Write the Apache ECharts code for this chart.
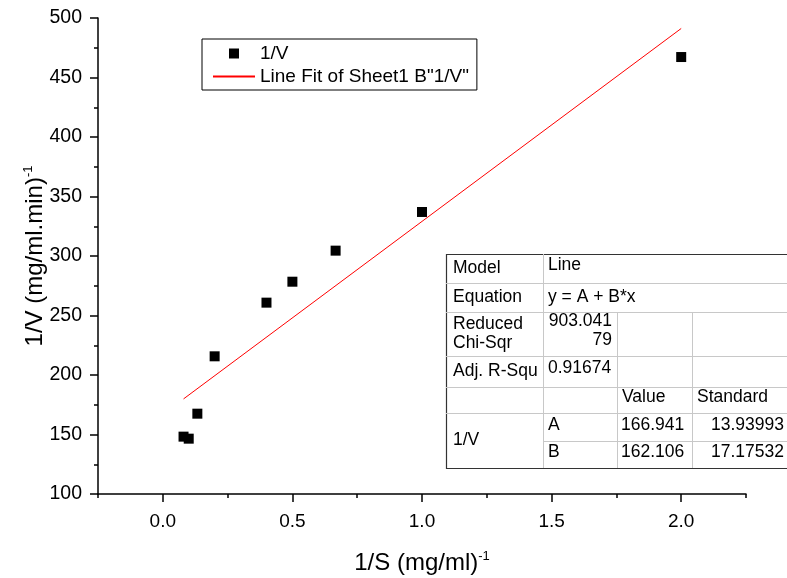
<!DOCTYPE html>
<html>
<head>
<meta charset="utf-8">
<script src="https://cdn.jsdelivr.net/npm/echarts@6/dist/echarts.min.js"></script>
<style>
  html, body { margin: 0; padding: 0; background: #fff; }
  #chart { width: 787px; height: 578px; }
</style>
</head>
<body>
<div id="chart"></div>
<script>
// data
const xVals = [0.08, 0.1, 0.1333, 0.2, 0.4, 0.5, 0.6667, 1.0, 2.0];
const yVals = [148.2, 146.5, 167.5, 215.7, 260.8, 278.4, 304.5, 337.0, 467.2];
// fitted line end points
const fitX = [0.08, 2.0];
const fitY = [179.9, 491.2];

const xTicks = [0, 0.5, 1.0, 1.5, 2.0];
const xMinorTicks = [-0.25, 0.25, 0.75, 1.25, 1.75, 2.25];

// fit result table
const tableLeft = ['Model', 'Equation', 'Reduced\nChi-Sqr', 'Adj. R-Squ', '', '1/V'];
const tableInfo = ['Line', 'y = A + B*x', '903.041\n79', '0.91674'];
const tableHead = ['', 'Value', 'Standard'];
const paramNames = ['A', 'B'];
const paramValues = ['166.941', '162.106'];
const paramErrors = ['13.93993', '17.17532'];

const FONT = '"Liberation Sans", Arial, sans-serif';

const chart = echarts.init(document.getElementById('chart'), null, { renderer: 'canvas' });

// table layout
const colX = [446, 543, 617, 692, 792];
const rowY = [254, 283, 312, 356, 387, 413, 441, 468];
const tFont = 17.5;
const gridColor = '#c8c8c8';

function txt(x, y, s, align) {
  return {
    type: 'text', x: x, y: y, z: 20,
    style: { text: s, font: tFont + 'px ' + FONT, fill: '#000', align: align || 'left', verticalAlign: 'middle', lineHeight: 19 }
  };
}
function ln(x1, y1, x2, y2, c) {
  return { type: 'line', z: 15, shape: { x1: x1, y1: y1, x2: x2, y2: y2 }, style: { stroke: c || gridColor, lineWidth: 1 } };
}

let table = [];
table.push({
  type: 'rect', z: 10,
  shape: { x: colX[0] + 0.5, y: rowY[0] + 0.5, width: colX[4] - colX[0], height: rowY[7] - rowY[0] },
  style: { fill: '#fff', stroke: '#333', lineWidth: 1.2 }
});
// horizontal lines
for (let i = 1; i <= 5; i++) table.push(ln(colX[0], rowY[i] + 0.5, colX[4], rowY[i] + 0.5));
table.push(ln(colX[1], rowY[6] + 0.5, colX[4], rowY[6] + 0.5));
// vertical lines
table.push(ln(colX[1] + 0.5, rowY[0], colX[1] + 0.5, rowY[7]));
table.push(ln(colX[2] + 0.5, rowY[2], colX[2] + 0.5, rowY[7]));
table.push(ln(colX[3] + 0.5, rowY[2], colX[3] + 0.5, rowY[7]));

// left column
for (let i = 0; i < 5; i++) {
  if (tableLeft[i]) table.push(txt(colX[0] + 7, (rowY[i] + rowY[i + 1]) / 2, tableLeft[i]));
}
table.push(txt(colX[0] + 7, (rowY[5] + rowY[7]) / 2, tableLeft[5]));
// info column
table.push(txt(colX[1] + 5, (rowY[0] + rowY[1]) / 2 - 3, tableInfo[0]));
table.push(txt(colX[1] + 5, (rowY[1] + rowY[2]) / 2, tableInfo[1]));
table.push(txt(colX[2] - 5, (rowY[2] + rowY[3]) / 2 - 3, tableInfo[2], 'right'));
table.push(txt(colX[1] + 5, (rowY[3] + rowY[4]) / 2 - 3, tableInfo[3]));
// header
table.push(txt(colX[2] + 5, (rowY[4] + rowY[5]) / 2 - 3, tableHead[1]));
table.push(txt(colX[3] + 5, (rowY[4] + rowY[5]) / 2 - 3, tableHead[2]));
// parameters
for (let i = 0; i < 2; i++) {
  const cy = (rowY[5 + i] + rowY[6 + i]) / 2 - 2;
  table.push(txt(colX[1] + 5, cy, paramNames[i]));
  table.push(txt(colX[2] + 4, cy, paramValues[i]));
  table.push(txt(784, cy, paramErrors[i], 'right'));
}

const axisColor = '#000';
const titleRich = {
  a: { fontSize: 24, fontFamily: FONT, color: '#000', lineHeight: 27 },
  s: { fontSize: 13, fontFamily: FONT, color: '#000', verticalAlign: 'top', lineHeight: 14 }
};

const option = {
  animation: false,
  backgroundColor: '#fff',
  textStyle: { fontFamily: FONT },
  grid: { left: 98, right: 41, top: 18, bottom: 84, containLabel: false, outerBoundsMode: 'none' },
  legend: {
    left: 202,
    top: 39,
    orient: 'vertical',
    borderColor: '#000',
    borderWidth: 1,
    padding: [5, 8, 4, 10],
    itemGap: 4,
    itemWidth: 42,
    itemHeight: 10,
    textStyle: { fontSize: 19, fontFamily: FONT, color: '#000' },
    data: [
      { name: '1/V', icon: 'path://M0,0H10V10H0Z' },
      { name: 'Line Fit of Sheet1 B"1/V"', itemStyle: { opacity: 0 } }
    ]
  },
  xAxis: [
    {
      type: 'value',
      min: -0.25,
      max: 2.25,
      name: '{a|1/S (mg/ml)}{s|-1}',
      nameLocation: 'middle',
      nameGap: 56,
      nameMoveOverlap: false,
      nameTextStyle: { rich: titleRich },
      splitLine: { show: false },
      axisLine: { show: true, onZero: false, lineStyle: { color: axisColor, width: 1.5 } },
      axisTick: { show: true, length: 8, customValues: xTicks, lineStyle: { color: axisColor, width: 1.5 } },
      axisLabel: {
        customValues: xTicks,
        margin: 18,
        fontSize: 19,
        fontFamily: FONT,
        color: '#000',
        formatter: v => v.toFixed(1)
      }
    },
    {
      type: 'value',
      min: -0.25,
      max: 2.25,
      position: 'bottom',
      splitLine: { show: false },
      axisLine: { show: false },
      axisTick: { show: true, length: 4, customValues: xMinorTicks, lineStyle: { color: axisColor, width: 1.5 } },
      axisLabel: { show: false }
    }
  ],
  yAxis: {
    type: 'value',
    min: 100,
    max: 500,
    interval: 50,
    name: '{a|1/V (mg/ml.min)}{s|-1}',
    nameLocation: 'middle',
    nameGap: 49,
    nameMoveOverlap: false,
    nameTextStyle: { rich: titleRich },
    splitLine: { show: false },
    axisLine: { show: true, onZero: false, lineStyle: { color: axisColor, width: 1.5 } },
    axisTick: { show: true, length: 8, lineStyle: { color: axisColor, width: 1.5 } },
    minorTick: { show: true, splitNumber: 2, length: 4, lineStyle: { color: axisColor, width: 1.5 } },
    axisLabel: { margin: 16, fontSize: 19.5, fontFamily: FONT, color: '#000' }
  },
  series: [
    {
      name: '1/V',
      type: 'scatter',
      symbol: 'rect',
      symbolSize: 10,
      itemStyle: { color: '#000', opacity: 1 },
      data: xVals.map((x, i) => [x, yVals[i]]),
      z: 5
    },
    {
      name: 'Line Fit of Sheet1 B"1/V"',
      type: 'line',
      symbol: 'none',
      lineStyle: { color: '#ff0000', width: 1 },
      itemStyle: { color: '#ff0000' },
      data: fitX.map((x, i) => [x, fitY[i]]),
      z: 4
    }
  ],
  graphic: table
};

chart.setOption(option);
</script>
</body>
</html>
